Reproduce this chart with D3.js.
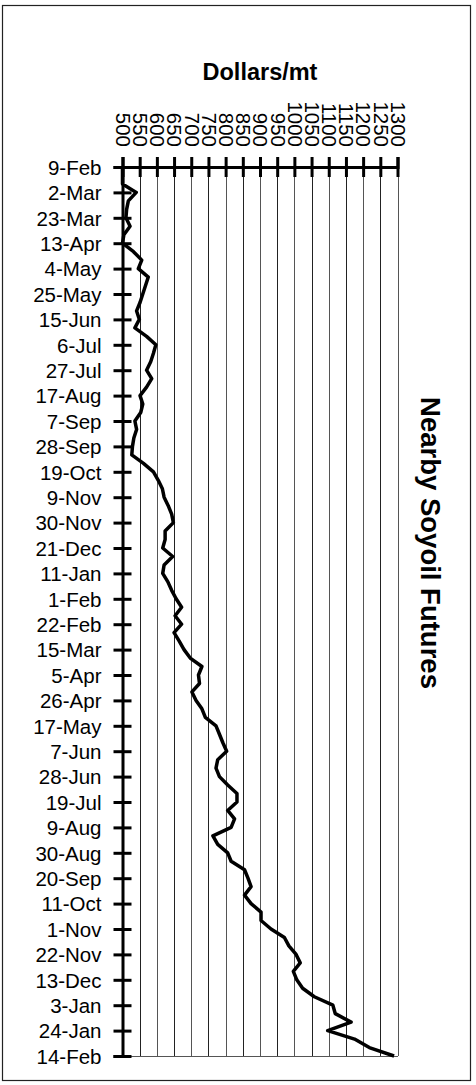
<!DOCTYPE html>
<html><head><meta charset="utf-8">
<script src="https://cdn.jsdelivr.net/npm/d3@7/dist/d3.min.js"></script>
<style>
html,body{margin:0;padding:0;background:#fff;}
svg{display:block;}
text{font-family:Arial,"Liberation Sans",sans-serif;}
</style></head>
<body>
<svg id="chart" width="476" height="1085"></svg>
<script>
// Week-start tick labels (every 3rd weekly observation)
const weekLabels = ["9-Feb","2-Mar","23-Mar","13-Apr","4-May","25-May","15-Jun","6-Jul","27-Jul","17-Aug","7-Sep","28-Sep","19-Oct","9-Nov","30-Nov","21-Dec","11-Jan","1-Feb","22-Feb","15-Mar","5-Apr","26-Apr","17-May","7-Jun","28-Jun","19-Jul","9-Aug","30-Aug","20-Sep","11-Oct","1-Nov","22-Nov","13-Dec","3-Jan","24-Jan","14-Feb"];
// Weekly nearby soyoil futures, dollars/mt
const soyoil = [500,500,500,540,517,512,510,522,504,500,
532,556,546,575,567,559,551,541,549,536,
570,597,590,582,570,585,570,551,559,553,
536,541,533,529,527,561,590,604,616,621,
633,643,648,624,624,617,646,621,617,632,
643,656,672,653,672,650,665,679,697,731,
721,724,702,714,731,741,772,782,792,803,
777,772,782,806,833,833,806,826,816,763,
777,806,816,855,865,874,855,874,903,903,
932,971,984,1005,1017,997,1007,1024,1058,1112,
1119,1165,1097,1175,1218,1290];
const valueTicks = [500,550,600,650,700,750,800,850,900,950,1000,1050,1100,1150,1200,1250,1300];
const titleTop = "Dollars/mt";
const titleSide = "Nearby Soyoil Futures";

const svg = d3.select("#chart");
const L = 122.5, R = 397.5, T = 167, B = 1056;
const x = d3.scaleLinear().domain([500,1300]).range([L,R]);
const y = d3.scaleLinear().domain([0, soyoil.length-1]).range([T,B]);

// outer border
svg.append("rect").attr("x",2.5).attr("y",5.5).attr("width",468).attr("height",1075)
  .attr("fill","none").attr("stroke","#222").attr("stroke-width",1.2);

// gridlines
svg.append("g").selectAll("line").data(valueTicks.slice(1)).join("line")
  .attr("x1",d=>Math.round(x(d))+0.5).attr("x2",d=>Math.round(x(d))+0.5)
  .attr("y1",T).attr("y2",B).attr("stroke",(d,i)=>i%2?"#555":"#222").attr("stroke-width",1);
// bottom plot edge
svg.append("line").attr("x1",L).attr("x2",R+0.5).attr("y1",B+0.5).attr("y2",B+0.5)
  .attr("stroke","#555").attr("stroke-width",1.2);

// left (category) axis
const tickIdx = weekLabels.map((d,i)=>i*3);
const yAxis = d3.axisLeft(y).tickValues(tickIdx).tickFormat((d,i)=>weekLabels[i]).tickSizeOuter(0).tickSize(9);
const gy = svg.append("g").attr("transform",`translate(${L},0)`).call(yAxis);
gy.select(".domain").attr("stroke","#000").attr("stroke-width",3);
gy.selectAll(".tick line").attr("x1",-9).attr("x2",9).attr("stroke","#000").attr("stroke-width",3);
gy.selectAll(".tick text").attr("x",-21).attr("dy","0.36em")
  .attr("font-size","20.5px").attr("fill","#000").attr("font-family","Arial, 'Liberation Sans', sans-serif");

// top (value) axis
const xAxis = d3.axisTop(x).tickValues(valueTicks).tickFormat(d3.format("d")).tickSizeOuter(0).tickSize(10);
const gx = svg.append("g").attr("transform",`translate(0,${T})`).call(xAxis);
gx.select(".domain").attr("stroke","#000").attr("stroke-width",3);
gx.selectAll(".tick line").attr("y1",-10).attr("y2",10).attr("stroke","#000").attr("stroke-width",3);
gx.selectAll(".tick text")
  .attr("transform","translate(0,-20) rotate(90)")
  .attr("x",0).attr("y",0).attr("dy","0.35em")
  .attr("text-anchor","end")
  .attr("font-size","20.5px").attr("fill","#000").attr("font-family","Arial, 'Liberation Sans', sans-serif");

// price line
const line = d3.line().x(d=>x(d)).y((d,i)=>y(i)).curve(d3.curveLinear);
svg.append("path").datum(soyoil).attr("d",line)
  .attr("fill","none").attr("stroke","#000").attr("stroke-width",3.5).attr("stroke-linejoin","round");

// titles
svg.append("text").attr("x",(L+R)/2).attr("y",80).attr("text-anchor","middle")
  .attr("font-weight","bold").attr("font-size","23.5px").text(titleTop);
svg.append("text").attr("transform",`translate(421,543) rotate(90)`).attr("text-anchor","middle")
  .attr("font-weight","bold").attr("font-size","27.5px").text(titleSide);
</script>
</body></html>
